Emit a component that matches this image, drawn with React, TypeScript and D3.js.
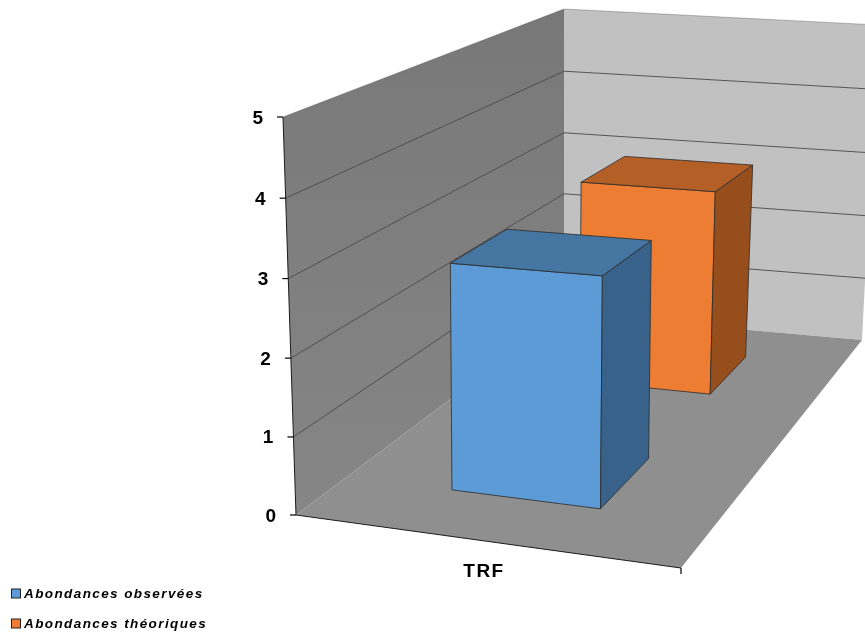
import React from "react";
import * as d3 from "d3";

const categories = ["TRF"];
const seriesNames = ["Abondances observées", "Abondances théoriques"];
const seriesValues = [2.96, 3.0];
const yTicks = [0, 1, 2, 3, 4, 5];
const yMax = 5;
const seriesFill = ["#5b9bd5", "#ed7d31"];
const seriesTop = ["#4475a1", "#b35e25"];
const seriesSide = ["#376289", "#964f1f"];
const depthBands = [[0.15, 0.35], [0.65, 0.85]];
const widthBand = [0.3, 0.703];

// Projection anchors: the chart box's corners as seen in the picture.
type Pt = [number, number];
type Quad = { o: Pt; u: Pt; v: Pt; uv: Pt };
const floorCorners: Quad = { o: [296, 515], u: [681, 568], v: [564, 314], uv: [862, 340] };
const topCorners: Quad = { o: [283, 117], u: [682, 138], v: [564, 9], uv: [878, 25] };
const verticalFlare = 1.025;

function homography({ o, u, v, uv }: Quad) {
  const dx1 = u[0] - uv[0], dx2 = v[0] - uv[0], sx = o[0] - u[0] + uv[0] - v[0];
  const dy1 = u[1] - uv[1], dy2 = v[1] - uv[1], sy = o[1] - u[1] + uv[1] - v[1];
  const den = dx1 * dy2 - dx2 * dy1;
  const g = (sx * dy2 - dx2 * sy) / den;
  const h = (dx1 * sy - sx * dy1) / den;
  const a = u[0] - o[0] + g * u[0], b = v[0] - o[0] + h * v[0];
  const d = u[1] - o[1] + g * u[1], e = v[1] - o[1] + h * v[1];
  return (uu: number, vv: number): Pt => {
    const w = g * uu + h * vv + 1;
    return [(a * uu + b * vv + o[0]) / w, (d * uu + e * vv + o[1]) / w];
  };
}

const floorMap = homography(floorCorners);
const topMap = homography(topCorners);
const yScale = d3.scaleLinear().domain([0, yMax]).range([0, 1]);

function P(u: number, v: number, value: number): Pt {
  const t = yScale(value);
  const s = t / (t + (1 - t) * verticalFlare);
  const f = floorMap(u, v);
  const top = topMap(u, v);
  return [f[0] + (top[0] - f[0]) * s, f[1] + (top[1] - f[1]) * s];
}

const poly = (pts: Pt[]) => d3.line()(pts)! + "Z";
const FONT = "'Liberation Sans', Arial, sans-serif";

export default function App() {
  const edge = "#2b2b2b";
  return (
    <svg width={865} height={636} style={{ position: "absolute", left: 0, top: 0, background: "#fff" }}>
      <defs>
        <linearGradient id="leftWall" x1="0" y1="0" x2="0" y2="1">
          <stop offset="0" stopColor="#787878" />
          <stop offset="1" stopColor="#868686" />
        </linearGradient>
        <filter id="soft"><feGaussianBlur stdDeviation="0.45" /></filter>
      </defs>
      <g filter="url(#soft)">
        <path d={poly([P(0, 1, 0), P(1, 1, 0), P(1, 1, yMax), P(0, 1, yMax)])} fill="#c1c1c1" />
        <path d={poly([P(0, 0, 0), P(0, 1, 0), P(0, 1, yMax), P(0, 0, yMax)])} fill="url(#leftWall)" />
        <path d={poly([P(0, 0, 0), P(1, 0, 0), P(1, 1, 0), P(0, 1, 0)])} fill="#8f8f8f" />
        {yTicks.map((t) => (
          <g key={t}>
            {t > 0 && (
              <path
                d={d3.line()([P(0, 0, t), P(0, 1, t), P(1, 1, t)])!}
                fill="none"
                stroke="#4a4a4a"
                strokeWidth={1}
                opacity={t === yMax ? 0.35 : 0.9}
              />
            )}
          </g>
        ))}
        {[1, 0].map((i) => {
          const [v0, v1] = depthBands[i];
          const [u0, u1] = widthBand;
          const h = seriesValues[i];
          return (
            <g key={seriesNames[i]} stroke={edge} strokeWidth={0.8} strokeLinejoin="round">
              <path d={poly([P(u0, v0, 0), P(u1, v0, 0), P(u1, v0, h), P(u0, v0, h)])} fill={seriesFill[i]} />
              <path d={poly([P(u1, v0, 0), P(u1, v1, 0), P(u1, v1, h), P(u1, v0, h)])} fill={seriesSide[i]} />
              <path d={poly([P(u0, v0, h), P(u1, v0, h), P(u1, v1, h), P(u0, v1, h)])} fill={seriesTop[i]} />
            </g>
          );
        })}
        <path d={d3.line()([P(0, 0, yMax), P(0, 0, 0), P(1, 0, 0)])!} fill="none" stroke="#1c1c1c" strokeWidth={1} />
        {yTicks.map((t) => {
          const [x, y] = P(0, 0, t);
          return (
            <g key={t}>
              <line x1={x - 6} x2={x} y1={y} y2={y} stroke="#000" strokeWidth={1.2} />
              <text x={x - 20} y={y + 6.5} textAnchor="end" fontFamily={FONT} fontWeight="bold" fontSize={19} fill="#000">
                {t}
              </text>
            </g>
          );
        })}
        {(() => {
          const [x, y] = P(1, 0, 0);
          return <line x1={x} x2={x} y1={y} y2={y + 6} stroke="#000" strokeWidth={1.2} />;
        })()}
        <text x={484} y={577} textAnchor="middle" fontFamily={FONT} fontWeight="bold" fontSize={19} letterSpacing={1.5} fill="#000">
          {categories[0]}
        </text>
        {seriesNames.map((name, i) => {
          const y = 593.5 + i * 30;
          return (
            <g key={name}>
              <rect x={11.5} y={y - 4.5} width={9} height={9} fill={seriesFill[i]} stroke="#222" strokeWidth={1} />
              <text x={24} y={y + 4.5} fontFamily={FONT} fontWeight="bold" fontStyle="italic" fontSize={13.5} letterSpacing={1.4} fill="#000">
                {name}
              </text>
            </g>
          );
        })}
      </g>
    </svg>
  );
}
